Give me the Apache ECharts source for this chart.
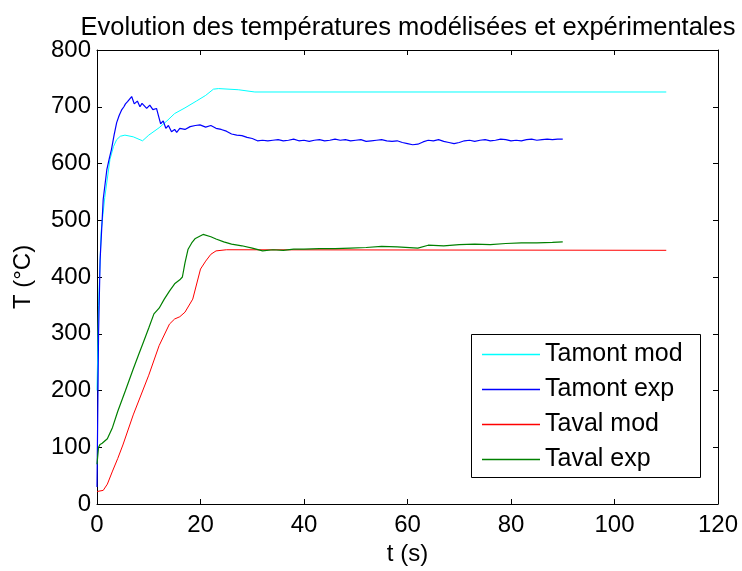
<!DOCTYPE html>
<html>
<head>
<meta charset="utf-8">
<script src="https://cdn.jsdelivr.net/npm/echarts@6/dist/echarts.min.js"></script>
<style>
html,body{margin:0;padding:0;background:#fff;}
#main{width:742px;height:571px;}
</style>
</head>
<body>
<div id="main"></div>
<script>
// ---- data ----
var xTicks = [0, 20, 40, 60, 80, 100, 120];
var yTicks = [0, 100, 200, 300, 400, 500, 600, 700, 800];
var seriesNames = ['Tamont mod', 'Tamont exp', 'Taval mod', 'Taval exp'];
var seriesColors = ['#00FFFF', '#0000FF', '#FF0000', '#008000'];

var tAmontMod = [0, 0.3, 0.8, 1.5, 2.5, 3.2, 3.8, 4.5, 5.4, 7, 8.8, 10, 12, 13.5, 15, 17, 19.2, 21, 22.5, 23.5, 27.3, 30.5, 110];
var vAmontMod = [200, 350, 480, 540, 607, 630, 642, 648, 650, 647, 640, 650, 663, 675, 688, 698, 710, 720, 731, 732, 730, 726, 726];

var tAmontExp = [0, 0.3, 0.6, 1.2, 1.9, 2.4, 2.8, 3.3, 3.8, 4.3, 4.8, 5.2, 5.5, 5.9, 6.2, 6.7, 7.2, 7.8, 8.3, 8.7, 9, 9.6, 10.2, 10.8, 11.5, 12, 12.3, 12.8, 13.3, 13.8, 14.4, 15, 15.4, 16, 17, 18, 19, 19.9, 21, 22, 23, 24, 25, 26, 27, 28, 29, 30,
  31, 32, 33, 34, 35, 36, 37, 38, 39, 40, 41, 42, 43, 44, 45, 46, 47, 48, 49, 50, 51, 52, 53, 54, 55, 56, 57, 58, 59, 60, 61, 62, 63, 64, 65, 66, 67, 68, 69, 70, 71, 72, 73, 74, 75, 76, 77, 78, 79, 80, 81, 82, 83, 84, 85, 86, 87, 88, 89, 90];
var vAmontExp = [30, 300, 430, 537, 589, 610, 625, 650, 672, 685, 695, 700, 705, 709, 712, 718, 705, 710, 700, 706, 705, 697, 703, 695, 697, 680, 670, 675, 662, 667, 656, 660, 655, 662, 660, 665, 667, 668, 664, 667, 662, 660, 657, 652, 650, 649, 646, 644,
  640, 641, 640, 641, 642, 640, 641, 643, 640, 641, 639, 641, 642, 640, 641, 643, 641, 642, 640, 641, 642, 639, 640, 641, 642, 640, 639, 640, 637, 635, 633, 634, 638, 641, 640, 642, 639, 637, 635, 637, 640, 641, 639, 641, 642, 640, 641, 643, 642, 640, 641, 640, 642, 643, 641, 642, 643, 642, 643, 643];

var tAvalMod = [0, 1.2, 2, 3, 4, 5, 7, 10, 12, 14, 15, 16, 17, 18.5, 20, 21, 22, 23, 25, 110];
var vAvalMod = [22, 24, 35, 58, 80, 104, 157, 227, 279, 317, 326, 330, 338, 361, 414, 428, 440, 446, 448, 447];

var tAvalExp = [0, 0.3, 0.6, 1, 2, 3, 4, 5.5, 7, 8, 9, 10, 11, 12, 13, 14, 15, 16, 16.5, 17, 17.6, 18.3, 19, 20.5, 22, 23, 24.5, 26, 28, 30, 32, 34, 36, 38, 40, 43, 46, 49, 52, 55, 58, 62, 64, 67, 70, 73, 76, 79, 82, 85, 88, 90];
var vAvalExp = [70, 100, 105, 107, 115, 135, 163, 200, 238, 262, 286, 310, 335, 345, 361, 375, 388, 395, 400, 425, 449, 460, 468, 475, 471, 467, 462, 458, 455, 451, 446, 448, 447, 449, 449, 450, 450, 451, 452, 454, 453, 451, 456, 455, 457, 458, 457, 459, 460, 460, 461, 462];

function pairs(ts, vs) { return ts.map(function (t, i) { return [t, vs[i]]; }); }

var chart = echarts.init(document.getElementById('main'));
var FONT = 'Liberation Sans, Arial, sans-serif';
var tickCommon = {show: true, inside: true, length: 5, lineStyle: {color: '#000', width: 1}};

var option = {
  animation: false,
  backgroundColor: '#fff',
  title: {
    text: 'Evolution des températures modélisées et expérimentales',
    left: 403, top: 10, textAlign: 'center',
    textStyle: {fontFamily: FONT, fontSize: 25.5, fontWeight: 'normal', color: '#000'}
  },
  grid: {left: 97, right: 24, top: 50, bottom: 65, containLabel: false},
  xAxis: [{
    type: 'value', min: 0, max: 120, interval: 20, position: 'bottom',
    name: 't (s)', nameLocation: 'middle', nameGap: 38,
    nameTextStyle: {fontFamily: FONT, fontSize: 24, color: '#000'},
    axisLine: {show: true, onZero: false, lineStyle: {color: '#000', width: 1}},
    axisTick: tickCommon,
    axisLabel: {fontFamily: FONT, fontSize: 24, color: '#000', margin: 9},
    splitLine: {show: false}
  }, {
    type: 'value', min: 0, max: 120, interval: 20, position: 'top',
    axisLine: {show: true, onZero: false, lineStyle: {color: '#000', width: 1}},
    axisTick: tickCommon, axisLabel: {show: false}, splitLine: {show: false}
  }],
  yAxis: [{
    type: 'value', min: 0, max: 800, interval: 100, position: 'left',
    name: 'T (°C)', nameLocation: 'middle', nameGap: 62,
    nameTextStyle: {fontFamily: FONT, fontSize: 24, color: '#000'},
    axisLine: {show: true, onZero: false, lineStyle: {color: '#000', width: 1}},
    axisTick: tickCommon,
    axisLabel: {fontFamily: FONT, fontSize: 24, color: '#000', margin: 6},
    splitLine: {show: false}
  }, {
    type: 'value', min: 0, max: 800, interval: 100, position: 'right',
    axisLine: {show: true, onZero: false, lineStyle: {color: '#000', width: 1}},
    axisTick: tickCommon, axisLabel: {show: false}, splitLine: {show: false}
  }],
  legend: {
    orient: 'vertical', left: 482, top: 342, itemWidth: 58, itemHeight: 1.5, itemGap: 10,
    padding: 0, z: 10,
    data: seriesNames.map(function (n) { return {name: n, icon: 'rect'}; }),
    textStyle: {fontFamily: FONT, fontSize: 25, color: '#000', lineHeight: 25}
  },
  graphic: [{
    type: 'rect', left: 471, top: 334, z: 3,
    shape: {width: 229, height: 143},
    style: {fill: '#fff', stroke: '#000', lineWidth: 1}
  }],
  series: [
    {name: seriesNames[0], type: 'line', data: pairs(tAmontMod, vAmontMod), symbol: 'none', lineStyle: {color: seriesColors[0], width: 1}, itemStyle: {color: seriesColors[0]}},
    {name: seriesNames[1], type: 'line', data: pairs(tAmontExp, vAmontExp), symbol: 'none', lineStyle: {color: seriesColors[1], width: 1.2}, itemStyle: {color: seriesColors[1]}},
    {name: seriesNames[2], type: 'line', data: pairs(tAvalMod, vAvalMod), symbol: 'none', lineStyle: {color: seriesColors[2], width: 1}, itemStyle: {color: seriesColors[2]}},
    {name: seriesNames[3], type: 'line', data: pairs(tAvalExp, vAvalExp), symbol: 'none', lineStyle: {color: seriesColors[3], width: 1.2}, itemStyle: {color: seriesColors[3]}}
  ]
};
chart.setOption(option);
</script>
</body>
</html>
